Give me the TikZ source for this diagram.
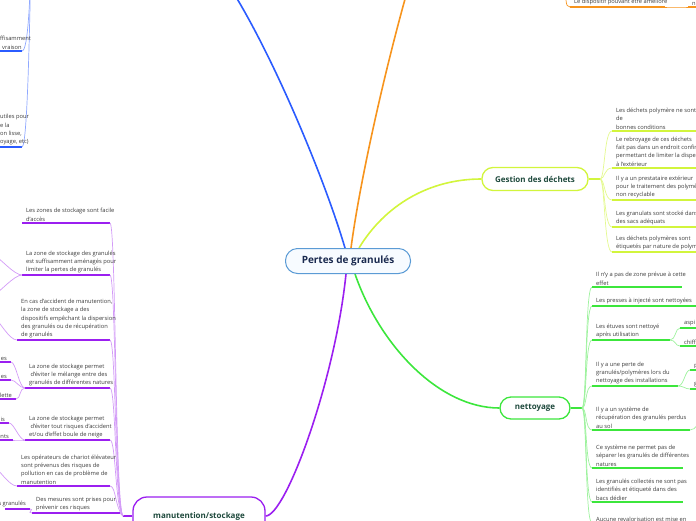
\documentclass[tikz,border=0pt]{standalone}
\usepackage{fontspec}
\setmainfont{Open Sans}
\usepackage{xcolor}
\definecolor{bleu}{HTML}{2B5CFF}
\definecolor{bleuclair}{HTML}{8FA8FF}
\definecolor{orange2}{HTML}{F7941D}
\definecolor{jaune}{HTML}{D2F53C}
\definecolor{jauneclair}{HTML}{E4F98F}
\definecolor{vert}{HTML}{3CE63C}
\definecolor{vertclair}{HTML}{9EF29E}
\definecolor{violet2}{HTML}{9B1FF0}
\definecolor{violetclair}{HTML}{D39BF7}
\definecolor{centrebord}{HTML}{5B9BD5}
\definecolor{centrefond}{HTML}{F7FBFF}
\definecolor{titrecentre}{HTML}{1A2A4F}
\definecolor{titre}{HTML}{1F4A3D}
\definecolor{texte}{HTML}{3A3A3A}
\usepackage{tikz}
\usetikzlibrary{positioning, backgrounds, calc}
\newcommand{\feuillefont}{\fontsize{5.75}{8.4}\selectfont}
\newcommand{\branchefont}{\fontsize{8}{9.5}\selectfont\bfseries}
\newcommand{\centrefont}{\fontsize{10}{12}\selectfont\bfseries}

\begin{document}
\begin{tikzpicture}[x=1pt, y=-1pt,
    feuille/.style={anchor=south west, align=left, inner xsep=4pt,
                    inner ysep=1.5pt, font=\feuillefont, text=texte},
    branche/.style={draw=#1, line width=1.3pt, rounded corners=11pt,
                    fill=white, font=\branchefont, text=titre, inner sep=0pt},
    souligne/.style={draw=#1, line width=1.3pt},
    lien/.style={draw=#1, line width=0.7pt},
    tronc/.style={draw=#1, line width=1.6pt}]

  \useasboundingbox (0,0) rectangle (696,520);
  \clip (0,0) rectangle (696,520);

  % noeud central et branches
  \node[draw=centrebord, fill=centrefond, line width=1pt, rounded corners=12pt,
        minimum width=125pt, minimum height=25pt, font=\centrefont,
        text=titrecentre] (centre) at (348,261) {Pertes de granulés};
  \node[branche=jaune, minimum width=106pt, minimum height=23pt]
        (gestion) at (535,179) {Gestion des déchets};
  \node[branche=vert, minimum width=70pt, minimum height=22pt]
        (nettoyage) at (535,408) {nettoyage};
  \node[branche=violet2, minimum width=132pt, minimum height=38pt,
        rounded corners=14pt] (manut) at (199,516) {manutention/stockage};

  \coordinate (bleuhaut) at (233,-8);
  \coordinate (orangehaut) at (407,-8);
  \coordinate (bfourche) at (31,-40);
  \coordinate (ofourche) at (566,-15);
  \coordinate (gfourche) at (600,179);
  \coordinate (nfourche) at (582,408);
  \coordinate (mfourche) at (123,516);

  % feuilles bleues (coupees)
  \node[feuille] (b1) at (-4,51) {ffisamment\\\hspace{2pt}vraison};
  \node[feuille] (b2) at (-4,147) {utiles pour\\e la\\on lisse,\\oyage, etc)};

  % feuilles orange
  \node[feuille] (o1) at (570,7) {Le dispositif pouvant être amélioré};
  \node[feuille] (o2) at (688,7) {ni};

  % Gestion des dechets
  \node[feuille] (g1) at (612,131) {Les déchets polymère ne sont\\de\\bonnes conditions};
  \node[feuille] (g2) at (612,168) {Le rebroyage de ces déchets\\fait pas dans un endroit confiné\\permettant de limiter la dispersion\\à l'extérieur};
  \node[feuille] (g3) at (612,200) {Il y a un prestataire extérieur\\pour le traitement des polymères\\non recyclable};
  \node[feuille] (g4) at (612,227) {Les granulats sont stocké dans\\des sacs adéquats};
  \node[feuille] (g5) at (612,252) {Les déchets polymères sont\\étiquetés par nature de polymères};

  % nettoyage
  \node[feuille] (n1) at (592,287) {Il n'y a pas de zone prévue à cette\\effet};
  \node[feuille] (n2) at (592,306) {Les presses à injecté sont nettoyées};
  \node[feuille] (n3) at (592,340) {Les étuves sont nettoyé\\après utilisation};
  \node[feuille] (n4) at (592,386) {Il y a une perte de\\granulés/polymères lors du\\nettoyage des installations};
  \node[feuille] (n5) at (592,430) {Il y a un système de\\récupération des granulés perdus\\au sol};
  \node[feuille] (n6) at (592,468) {Ce système ne permet pas de\\séparer les granulés de différentes\\natures};
  \node[feuille] (n7) at (592,502) {Les granulés collectés ne sont pas\\identifiés et étiqueté dans des\\bacs dédier};
  \node[feuille] (n8) at (592,523) {Aucune revalorisation est mise en};
  \node[feuille] (n3a) at (680,328) {aspi};
  \node[feuille] (n3b) at (680,346) {chiff};
  \node[feuille] (n4a) at (690,370) {P};
  \node[feuille] (n4b) at (690,389) {g};

  % manutention/stockage
  \node[feuille] (m1) at (22,223) {Les zones de stockage sont facile\\d'accès};
  \node[feuille] (m2) at (22,275) {La zone de stockage des granulés\\est suffisamment aménagés pour\\limiter la pertes de granulés};
  \node[feuille] (m3) at (17,340) {En cas d'accident de manutention,\\la zone de stockage a des\\dispositifs empêchant la dispersion\\des granulés ou de récupération\\de granulés};
  \node[feuille] (m4) at (25,388) {La zone de stockage permet\\\ d'éviter le mélange entre des\\granulés de différentes natures};
  \node[feuille] (m5) at (25,440) {La zone de stockage permet\\\ d'éviter tout risques d'accident\\et/ou d'effet boule de neige};
  \node[feuille] (m6) at (17,486) {Les opérateurs de chariot élévateur\\sont prévenus des risques de\\pollution en cas de problème de\\manutention};
  \node[feuille] (m7) at (32,513) {Des mesures sont prises pour\\prévenir ces risques};
  \node[feuille, anchor=south east] (m4a) at (11,362) {es};
  \node[feuille, anchor=south east] (m4b) at (11,380) {es};
  \node[feuille, anchor=south east] (m4c) at (16,399) {lette};
  \node[feuille, anchor=south east] (m5a) at (9,423) {is};
  \node[feuille, anchor=south east] (m5b) at (13,440) {ents};
  \node[feuille, anchor=south east] (m7a) at (30,509) {s granulés};
  \coordinate (m2a) at (-4,257);
  \coordinate (m2b) at (-4,293);
  \coordinate (m3a) at (-4,320);
  \coordinate (m6a) at (-4,469);

  \begin{scope}[on background layer]
    \clip (0,0) rectangle (696,520);
    % branches principales
    \draw[tronc=bleu] ([xshift=-3pt]centre.north) .. controls +(-20,-68) and +(42,68) .. (bleuhaut);
    \draw[tronc=orange2] ([xshift=3pt]centre.north) .. controls +(9,-68) and +(-22,78) .. (orangehaut);
    \draw[tronc=jaune] ([xshift=11pt]centre.north) .. controls +(26,-43) and +(-52,0) .. (gestion.west);
    \draw[tronc=violet2] ([xshift=-2pt]centre.south) .. controls +(-11,107) and +(20,0) .. (manut.east);
    \draw[tronc=vert] ([xshift=7pt]centre.south) .. controls +(25,72) and +(-60,0) .. (nettoyage.west);

    % bleu
    \foreach \f in {b1, b2} {
      \draw[souligne=bleu] (\f.south west) -- ++(26,0) coordinate (\f-e);
      \draw[lien=bleuclair] (bfourche) .. controls +(-1,40) and +(6,0) .. (\f-e);
    }

    % orange
    \draw[souligne=orange2] (o1.south west) -- ++(95,0) coordinate (o1-e);
    \draw[souligne=orange2] (o2.south west) -- ++(20,0);
    \draw[lien=orange2] (ofourche) .. controls +(0,14) and +(-5,0) .. (o1.south west);
    \draw[lien=orange2] (o1-e) .. controls +(10,0) and +(-10,0) .. (o2.south west);

    % Gestion des dechets
    \draw[tronc=jaune] (gestion.east) -- (gfourche);
    \foreach \f in {g1, g2, g3, g4, g5} {
      \draw[lien=jauneclair] (gfourche) .. controls +(5,0) and +(-8,0) .. (\f.south west);
      \draw[souligne=jaune] (\f.south west) -- ++(90,0);
    }

    % nettoyage
    \draw[tronc=vert] (nettoyage.east) -- (nfourche);
    \foreach \f/\l in {n1/90, n2/110, n3/78, n4/86, n5/98, n6/91, n7/91, n8/110} {
      \draw[lien=vertclair] (nfourche) .. controls +(5,0) and +(-7,0) .. (\f.south west);
      \draw[souligne=vert] (\f.south west) -- ++(\l,0) coordinate (\f-e);
    }
    \foreach \f/\p in {n3a/n3, n3b/n3, n4a/n4, n4b/n4} {
      \draw[lien=vertclair] (\p-e) .. controls +(6,0) and +(-5,0) .. (\f.south west);
      \draw[souligne=vert] (\f.south west) -- ++(20,0);
    }
    \draw[lien=vertclair] (n5-e) .. controls +(6,0) and +(0,6) .. (700,416);

    % manutention/stockage
    \draw[tronc=violet2] (manut.west) -- (mfourche);
    \foreach \f/\l in {m1/88, m2/88, m3/93, m4/85, m5/85, m6/93} {
      \draw[souligne=violet2] (\f.south west) -- ++(\l,0) coordinate (\f-e);
      \draw[lien=violetclair] (mfourche) .. controls +(-8,-8) and +(6,0) .. (\f-e);
    }
    \draw[souligne=violet2] (m7.south west) -- ++(88,0) coordinate (m7-e);
    \draw[lien=violetclair] (mfourche) .. controls +(-2,0) and +(2,0) .. (m7-e);
    \foreach \f/\p in {m4a/m4, m4b/m4, m4c/m4, m5a/m5, m5b/m5, m7a/m7} {
      \draw[souligne=violet2] (\f.south east) -- ++(-25,0);
      \draw[lien=violetclair] (\p.south west) .. controls +(-6,0) and +(5,0) .. (\f.south east);
    }
    \foreach \f/\p in {m2a/m2, m2b/m2, m3a/m3, m6a/m6} {
      \draw[lien=violetclair] (\p.south west) .. controls +(-8,0) and +(3,0) .. (\f);
    }
  \end{scope}
\end{tikzpicture}
\end{document}
